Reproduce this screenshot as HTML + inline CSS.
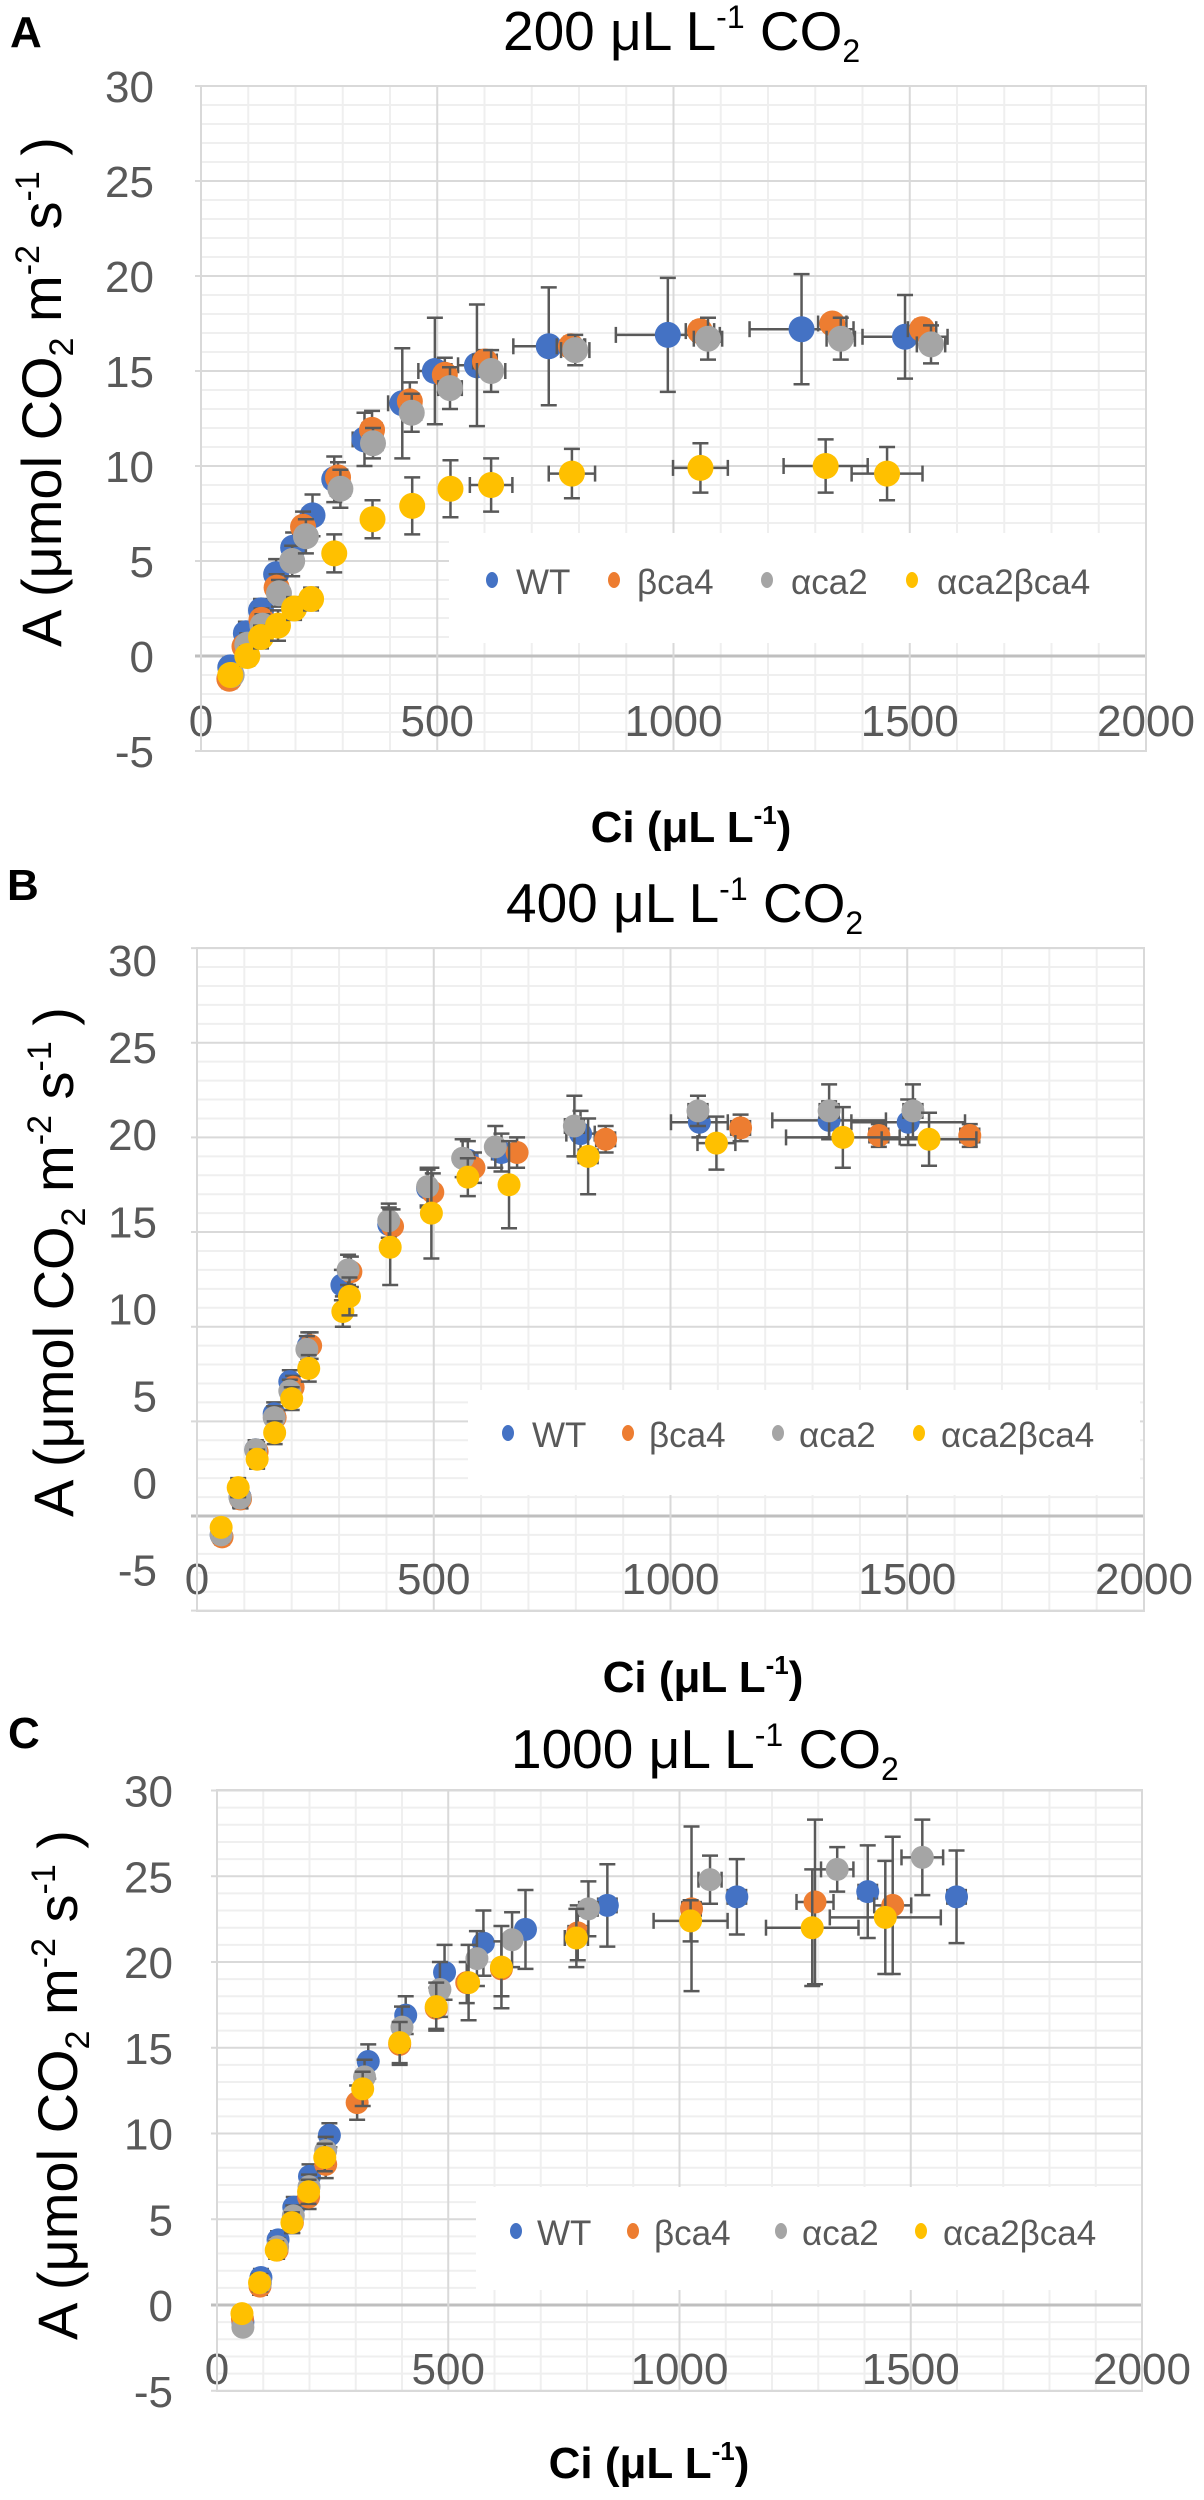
<!DOCTYPE html>
<html><head><meta charset="utf-8"><style>
html,body{margin:0;padding:0;background:#fff;}
svg{display:block;}
.tick{font-family:"Liberation Sans",sans-serif;font-size:44px;fill:#595959;}
.leg{font-family:"Liberation Sans",sans-serif;font-size:35px;fill:#595959;}
.ttl{font-family:"Liberation Sans",sans-serif;font-size:55px;fill:#000;}
.ytl{font-family:"Liberation Sans",sans-serif;font-size:56px;fill:#000;}
.xtl{font-family:"Liberation Sans",sans-serif;font-size:44px;font-weight:bold;fill:#000;}
.pl{font-family:"Liberation Sans",sans-serif;font-size:44px;font-weight:bold;fill:#000;}
</style></head><body>
<svg id="fig" width="1204" height="2500" viewBox="0 0 1204 2500" xmlns="http://www.w3.org/2000/svg">
<rect width="1204" height="2500" fill="#fff"/>
</svg>
<script>
// ---- shared tick labels ----
const xTicks=[0,500,1000,1500,2000];
const yTicks=[30,25,20,15,10,5,0,-5];
const seriesNames=["WT","βca4","αca2","αca2βca4"];
const seriesColors=["#4472C4","#ED7D31","#A5A5A5","#FFC000"];

// ---- Panel A: 200 µL L-1 CO2 ----
const A_WT_ci=[62,95,127,159,195,236,282,346,426,495,584,736,988,1271,1490];
const A_WT_a=[-0.6,1.2,2.4,4.3,5.7,7.4,9.3,11.4,13.3,15.0,15.3,16.3,16.9,17.2,16.8];
const A_WT_ea=[0.5,0.6,0.6,0.8,0.8,1.1,1.2,1.4,2.9,2.8,3.2,3.1,3.0,2.9,2.2];
const A_WT_ex=[5,8,10,12,15,20,20,25,30,35,40,75,110,110,90];
const A_B4_ci=[60,92,128,160,216,290,362,442,516,601,783,1056,1336,1526];
const A_B4_a=[-1.2,0.5,1.9,3.6,6.8,9.4,11.9,13.4,14.8,15.5,16.3,17.1,17.5,17.2];
const A_B4_ea=[0.5,0.5,0.6,0.7,0.8,0.8,1.0,1.0,0.9,0.6,0.5,0.5,0.4,0.5];
const A_B4_ex=[5,8,10,12,15,15,20,20,20,25,30,30,30,30];
const A_A2_ci=[65,98,130,165,193,222,295,364,446,527,614,792,1073,1354,1545];
const A_A2_a=[-1.0,0.6,1.6,3.3,5.0,6.3,8.8,11.2,12.8,14.1,15.0,16.1,16.7,16.7,16.4];
const A_A2_ea=[0.5,0.6,0.6,0.7,0.8,0.9,1.0,0.8,1.0,1.1,1.1,0.8,1.1,1.1,1.0];
const A_A2_ex=[5,8,10,12,15,15,20,20,20,25,30,30,30,30,30];
const A_DB_ci=[62,98,127,163,197,233,282,363,447,528,614,785,1057,1322,1452];
const A_DB_a=[-1.0,0.0,1.0,1.6,2.5,3.0,5.4,7.2,7.9,8.8,9.0,9.6,9.9,10.0,9.6];
const A_DB_ea=[0.4,0.5,0.6,0.8,0.6,0.6,1.0,1.0,1.5,1.5,1.4,1.3,1.3,1.4,1.4];
const A_DB_ex=[5,5,8,10,10,10,10,15,15,15,45,49,58,89,75];

// ---- Panel B: 400 µL L-1 CO2 ----
const B_WT_ci=[51,91,124,163,196,235,306,405,487,572,643,810,1061,1335,1502];
const B_WT_a=[-1.0,1.0,3.5,5.4,7.1,9.0,12.2,15.4,17.3,18.8,19.2,20.2,20.8,20.9,20.8];
const B_WT_ea=[0.4,0.5,0.5,0.6,0.6,0.7,0.8,0.9,1.0,1.0,1.0,1.2,0.8,1.0,1.2];
const B_WT_ex=[4,5,6,8,8,10,10,12,15,20,20,30,60,120,120];
const B_B4_ci=[53,92,127,165,203,240,325,413,498,585,676,863,1148,1440,1632];
const B_B4_a=[-1.1,0.9,3.4,5.2,6.8,9.0,12.9,15.3,17.1,18.4,19.2,19.9,20.5,20.1,20.1];
const B_B4_ea=[0.4,0.5,0.5,0.6,0.6,0.7,0.8,0.9,1.0,0.8,0.8,0.7,0.7,0.6,0.6];
const B_B4_ex=[4,5,6,8,8,10,10,12,15,15,15,20,20,20,20];
const B_A2_ci=[51,91,124,163,196,232,319,405,487,561,630,797,1058,1335,1512];
const B_A2_a=[-1.0,0.95,3.5,5.2,6.6,8.8,13.0,15.6,17.4,18.9,19.5,20.6,21.4,21.4,21.4];
const B_A2_ea=[0.4,0.5,0.5,0.6,0.6,0.7,0.8,0.9,1.0,1.0,1.1,1.6,0.8,1.4,1.4];
const B_A2_ex=[4,5,6,8,8,10,10,12,15,15,15,20,20,20,20];
const B_DB_ci=[51,87,127,164,200,236,308,322,408,495,572,659,826,1097,1364,1546];
const B_DB_a=[-0.6,1.5,3.0,4.4,6.2,7.8,10.8,11.6,14.2,16.0,17.9,17.5,19.0,19.7,20.0,19.9];
const B_DB_ea=[0.4,0.5,0.5,0.6,0.6,0.7,0.8,1.0,2.0,2.4,1.0,2.3,2.0,1.4,1.6,1.4];
const B_DB_ex=[4,5,6,8,8,10,10,10,12,15,15,15,20,40,120,100];

// ---- Panel C: 1000 µL L-1 CO2 ----
const C_WT_ci=[56,95,132,166,200,243,327,408,492,576,667,844,1124,1407,1599];
const C_WT_a=[-1.0,1.6,3.8,5.7,7.5,9.9,14.2,16.9,19.4,21.1,21.9,23.3,23.8,24.1,23.8];
const C_WT_ea=[0.4,0.5,0.5,0.6,0.7,0.7,1.0,1.1,1.6,1.9,2.3,2.4,2.2,2.7,2.7];
const C_WT_ex=[4,5,6,8,8,10,10,12,15,15,15,20,20,20,20];
const C_B4_ci=[55,93,130,163,198,235,303,395,474,540,615,780,1026,1293,1461];
const C_B4_a=[-0.8,1.1,3.2,4.8,6.3,8.2,11.8,15.2,17.3,18.8,19.6,21.7,23.1,23.5,23.3];
const C_B4_ea=[0.4,0.5,0.5,0.6,0.7,0.8,1.0,1.2,1.2,1.2,1.6,1.6,4.8,4.8,4.0];
const C_B4_ex=[4,5,6,8,8,10,10,12,15,15,15,20,20,40,40];
const C_A2_ci=[56,94,131,165,199,235,319,400,482,562,638,803,1066,1341,1525];
const C_A2_a=[-1.3,1.3,3.4,5.2,6.9,9.0,13.3,16.2,18.4,20.2,21.3,23.1,24.8,25.4,26.1];
const C_A2_ea=[0.4,0.5,0.5,0.6,0.7,0.8,1.0,1.2,1.6,1.6,1.6,1.6,1.4,1.3,2.2];
const C_A2_ex=[4,5,6,8,8,10,10,12,15,15,15,20,25,35,45];
const C_DB_ci=[54,92,128,162,198,233,315,395,474,544,615,777,1024,1287,1445];
const C_DB_a=[-0.5,1.3,3.2,4.8,6.6,8.6,12.6,15.3,17.4,18.8,19.7,21.4,22.4,22.0,22.6];
const C_DB_ea=[0.4,0.5,0.5,0.6,0.7,0.8,1.0,1.2,1.4,2.2,2.4,1.7,1.2,3.4,3.3];
const C_DB_ex=[4,5,6,8,8,10,10,12,15,15,15,25,80,100,120];

const NS="http://www.w3.org/2000/svg";
const svg=document.getElementById("fig");
function mk(tag,attrs,parent){const e=document.createElementNS(NS,tag);for(const k in attrs)e.setAttribute(k,attrs[k]);(parent||svg).appendChild(e);return e;}

const panels=[
 {id:"a",letter:"A",lx:10,ly:47,title:"200",tx:503,ty:50,x0:201,xpx:945/2000,y0:656,ypx:19,top:86,bot:751,right:1146,r:13,
  tickY:720,yLabRight:154,yLabC:null,ytx:61,yty:392,ciX:691,ciY:842,
  leg:{x:449,y:533,w:697,h:110,ey:582,mk:[492,614,767,912],tx:[516,637,791,937]},
  data:[[A_WT_ci,A_WT_a,A_WT_ea,A_WT_ex],[A_B4_ci,A_B4_a,A_B4_ea,A_B4_ex],[A_A2_ci,A_A2_a,A_A2_ea,A_A2_ex],[A_DB_ci,A_DB_a,A_DB_ea,A_DB_ex]]},
 {id:"b",letter:"B",lx:7,ly:900,title:"400",tx:506,ty:922,x0:197,xpx:947/2000,y0:1516,ypx:18.93,top:948,bot:1611,right:1144,r:11.5,
  tickY:1578,yLabRight:157,yLabC:[960,87.1],ytx:73,yty:1262,ciX:703,ciY:1692,
  leg:{x:468,y:1390,w:672,h:105,ey:1435,mk:[508,628,778,919],tx:[532,649,799,941]},
  data:[[B_WT_ci,B_WT_a,B_WT_ea,B_WT_ex],[B_B4_ci,B_B4_a,B_B4_ea,B_B4_ex],[B_A2_ci,B_A2_a,B_A2_ea,B_A2_ex],[B_DB_ci,B_DB_a,B_DB_ea,B_DB_ex]]},
 {id:"c",letter:"C",lx:8,ly:1748,title:"1000",tx:511,ty:1768,x0:217,xpx:925/2000,y0:2305,ypx:17.15,top:1790,bot:2391,right:1142,r:11.5,
  tickY:2368,yLabRight:173,yLabC:null,ytx:77,yty:2085,ciX:649,ciY:2478,
  leg:{x:476,y:2187,w:666,h:103,ey:2233,mk:[516,633,781,921],tx:[537,654,802,943]},
  data:[[C_WT_ci,C_WT_a,C_WT_ea,C_WT_ex],[C_B4_ci,C_B4_a,C_B4_ea,C_B4_ex],[C_A2_ci,C_A2_a,C_A2_ea,C_A2_ex],[C_DB_ci,C_DB_a,C_DB_ea,C_DB_ex]]}
];

panels.forEach(p=>{
 const X=v=>p.x0+v*p.xpx, Y=v=>p.y0-v*p.ypx;
 const g=mk("g",{});
 
 
 const pl=mk("text",{x:p.lx,y:p.ly,class:"pl"},g);pl.textContent=p.letter;
 
 
 const t=mk("text",{x:p.tx,y:p.ty,class:"ttl"},g);
 
 
 t.innerHTML=p.title+' μL L<tspan dy="-22" font-size="32">-1</tspan><tspan dy="22"> CO</tspan><tspan dy="12" font-size="32">2</tspan>';
 // grid
 const grid=mk("g",{},g);
 
 
 for(let v=-5;v<=30;v++){ if(v%5===0)continue; mk("line",{x1:X(0),x2:p.right,y1:Y(v),y2:Y(v),stroke:"#efefef","stroke-width":2},grid);}
 for(let v=100;v<2000;v+=100){ if(v%500===0)continue; mk("line",{x1:X(v),x2:X(v),y1:p.top,y2:p.bot,stroke:"#efefef","stroke-width":2},grid);}
 yTicks.forEach(v=>mk("line",{x1:X(0)-6,x2:p.right,y1:Y(v),y2:Y(v),stroke:v===0?"#bfbfbf":"#d9d9d9","stroke-width":v===0?3:2},grid));
 xTicks.forEach(v=>mk("line",{x1:X(v),x2:X(v),y1:p.top,y2:p.bot,stroke:"#d9d9d9","stroke-width":2},grid));
 // tick labels
 xTicks.forEach(v=>{const e=mk("text",{x:X(v),y:p.tickY+16,"text-anchor":"middle",class:"tick"},g);e.textContent=v;
  
  });
 yTicks.forEach((v,i)=>{const cy=p.yLabC?p.yLabC[0]+i*p.yLabC[1]:Y(v);
  const e=mk("text",{x:p.yLabRight,y:cy+16,"text-anchor":"end",class:"tick"},g);e.textContent=v;
  
  });
 // axis titles
 const yt=mk("text",{x:0,y:0,"text-anchor":"middle",class:"ytl",transform:`translate(${p.ytx},${p.yty}) rotate(-90)`},g);
 
 
 yt.innerHTML='A (μmol CO<tspan dy="12" font-size="34">2</tspan><tspan dy="-12"> m</tspan><tspan dy="-22" font-size="34">-2</tspan><tspan dy="22"> s</tspan><tspan dy="-22" font-size="34">-1</tspan><tspan dy="22"> )</tspan>';
 const xt=mk("text",{x:p.ciX,y:p.ciY,"text-anchor":"middle",class:"xtl"},g);
 
 
 xt.innerHTML='Ci (μL L<tspan dy="-18" font-size="26">-1</tspan><tspan dy="18">)</tspan>';
 // legend background
 const lg=mk("g",{},g);
 
 
 mk("rect",{x:p.leg.x,y:p.leg.y,width:p.leg.w,height:p.leg.h,fill:"#fff"},lg);
 // series
 p.data.forEach((s,si)=>{
  const sg=mk("g",{},g);
  
  
  const [ci,a,ea,ex]=s;
  ci.forEach((c,i)=>{
   const cx=X(c),cy=Y(a[i]),dy=ea[i]*p.ypx,dx=ex[i]*p.xpx;
   const st={stroke:"#595959","stroke-width":2.5};
   const eb=mk("g",{},sg);
   
   
   mk("line",Object.assign({x1:cx,x2:cx,y1:cy-dy,y2:cy+dy},st),eb);
   mk("line",Object.assign({x1:cx-8,x2:cx+8,y1:cy-dy,y2:cy-dy},st),eb);
   mk("line",Object.assign({x1:cx-8,x2:cx+8,y1:cy+dy,y2:cy+dy},st),eb);
   mk("line",Object.assign({x1:cx-dx,x2:cx+dx,y1:cy,y2:cy},st),eb);
   mk("line",Object.assign({x1:cx-dx,x2:cx-dx,y1:cy-8,y2:cy+8},st),eb);
   mk("line",Object.assign({x1:cx+dx,x2:cx+dx,y1:cy-8,y2:cy+8},st),eb);
   const pt=mk("circle",{cx:cx,cy:cy,r:p.r,fill:seriesColors[si]},sg);
   
   
  });
 });
 // legend entries
 seriesNames.forEach((n,i)=>{
  const m=mk("ellipse",{cx:p.leg.mk[i],cy:p.leg.ey-2,rx:6,ry:8,fill:seriesColors[i]},lg);
  
  
  const tx=mk("text",{x:p.leg.tx[i],y:p.leg.ey+12,class:"leg"},lg);tx.textContent=n;
  
  
 });
 // border
 const bd=mk("rect",{x:X(0),y:p.top,width:p.right-X(0),height:p.bot-p.top,fill:"none",stroke:"#d9d9d9","stroke-width":2},g);
 
 
});
</script>
</body></html>
